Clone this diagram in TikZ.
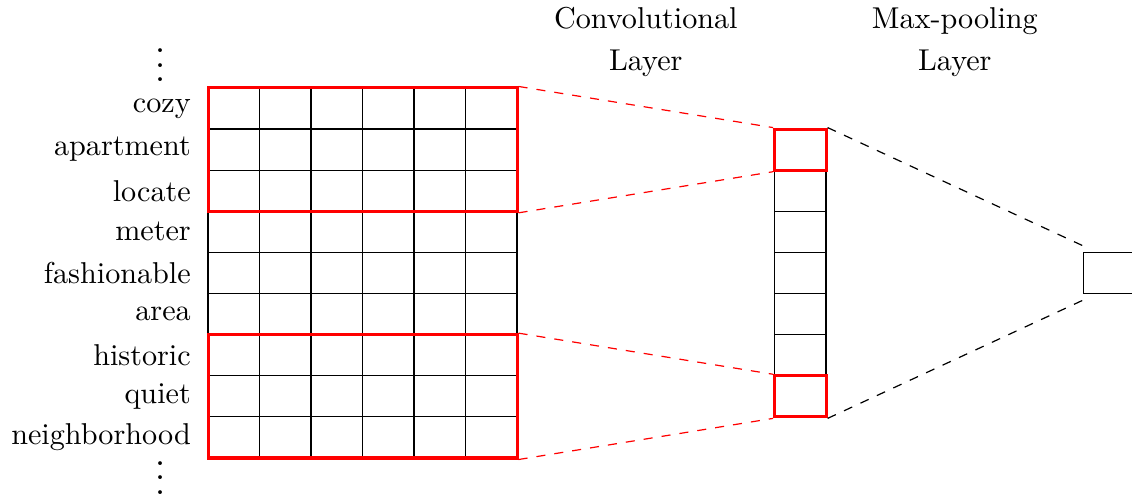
\documentclass[tikz,border=0pt]{standalone}
\usetikzlibrary{positioning}
\newcommand\wdots{\vbox{\baselineskip4pt\lineskiplimit0pt\hbox{.}\hbox{.}\hbox{.}}}

\begin{document}
\begin{tikzpicture}[x=0.6cm, y=0.479cm, cell/.style={draw, minimum width=0.6cm, minimum height=0.479cm, inner sep=0pt}, win/.style={draw=red, line width=1pt, inner sep=0pt}, link/.style={dashed}, word/.style={inner sep=3.33pt}, hdr/.style={align=center}, dts/.style={anchor=base, scale=1.2, inner sep=0pt}]
\useasboundingbox (-4.04,2.14) rectangle (17.94,-10.03);
% input matrix
\foreach \r/\w in {1/cozy, 2/apartment, 3/locate, 4/meter, 5/fashionable, 6/area, 7/historic, 8/quiet, 9/neighborhood} {
  \foreach \c in {1,...,6} \node[cell] (g-\r-\c) at (\c-0.5,-\r+0.5) {};
  \node[word, left=2pt of g-\r-1.west] (w-\r) {\w};
}
\node[dts] (dots-top) at (-0.92,0.15) {\wdots};
\node[dts] (dots-bot) at (-0.92,-9.88) {\wdots};
\node[win, minimum width=3.6cm, minimum height=1.437cm] (win-top) at (3,-1.5) {};
\node[win, minimum width=3.6cm, minimum height=1.437cm] (win-bot) at (3,-7.5) {};
% convolutional layer
\foreach \k in {1,...,7} \node[cell] (c-\k) at (11.5,-\k-0.5) {};
\node[cell, win] (c-top) at (c-1) {};
\node[cell, win] (c-bot) at (c-7) {};
% max-pooling layer
\node[cell] (mp) at (17.5,-4.5) {};
\coordinate (mp-t) at ([yshift=2pt]mp.north west);
\coordinate (mp-b) at ([yshift=-2pt]mp.south west);
\node[hdr] (h-conv) at (8.5,1.12) {Convolutional\\[2pt]Layer};
\node[hdr] (h-pool) at (14.5,1.12) {Max-pooling\\[2pt]Layer};
\draw[link, red] (win-top.north east) -- (c-top.north west);
\draw[link, red] (win-top.south east) -- (c-top.south west);
\draw[link, red] (win-bot.north east) -- (c-bot.north west);
\draw[link, red] (win-bot.south east) -- (c-bot.south west);
\draw[link] (c-top.north east) -- (mp-t);
\draw[link] (c-bot.south east) -- (mp-b);
\end{tikzpicture}
\end{document}
